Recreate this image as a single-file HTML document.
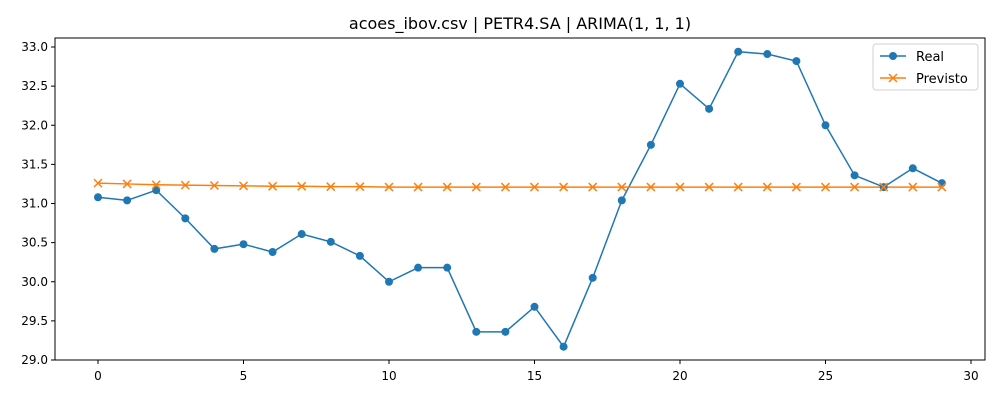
<!DOCTYPE html>
<html><head><meta charset="utf-8"><style>
body{margin:0;background:#fff;font-family:"Liberation Sans","DejaVu Sans",sans-serif;}
svg text{font-family:"DejaVu Sans","Liberation Sans",sans-serif;}
</style></head><body>
<svg id="chart" width="1000" height="400">
<rect width="1000" height="400" fill="#fff"/>
<text x="520" y="29" text-anchor="middle" font-size="16" fill="#000">acoes_ibov.csv | PETR4.SA | ARIMA(1, 1, 1)</text>
<g id="grid"></g>
<g id="series"></g>
<rect x="55" y="38" width="930" height="322" fill="none" stroke="#000" stroke-width="1"/>
<g>
<rect x="873" y="44" width="105" height="46" rx="3" fill="#fff" stroke="#ccc" opacity="0.9"/>
<g>
<line x1="880" y1="56" x2="906" y2="56" stroke="#1f77b4" stroke-width="1.5"/><circle cx="893" cy="56" r="4" fill="#1f77b4"/>
<text x="916" y="61" font-size="13">Real</text></g>
<g>
<line x1="880" y1="78" x2="906" y2="78" stroke="#ff7f0e" stroke-width="1.5"/><path d="M889,74L897,82M897,74L889,82" stroke="#ff7f0e" stroke-width="1.5"/>
<text x="916" y="83" font-size="13">Previsto</text></g>
</g>
</svg>
<script>
const real=[31.08,31.04,31.17,30.81,30.42,30.48,30.38,30.61,30.51,30.33,30.00,30.18,30.18,29.36,29.36,29.68,29.17,30.05,31.04,31.75,32.53,32.21,32.94,32.91,32.82,32.00,31.36,31.21,31.45,31.26];
const previsto=[31.26,31.25,31.24,31.235,31.23,31.225,31.22,31.22,31.215,31.215,31.21,31.21,31.21,31.21,31.21,31.21,31.21,31.21,31.21,31.21,31.21,31.21,31.21,31.21,31.21,31.21,31.21,31.21,31.21,31.21];
const xTicks=[0,5,10,15,20,25,30];
const yTicks=[29.0,29.5,30.0,30.5,31.0,31.5,32.0,32.5,33.0];
const NS="http://www.w3.org/2000/svg";
const X=v=>98+v*29.1, Y=v=>360-(v-29)*78.25;
function mk(t,a,p){const e=document.createElementNS(NS,t);for(const k in a)e.setAttribute(k,a[k]);p.appendChild(e);return e;}
const g=document.getElementById('grid'), s=document.getElementById('series');
xTicks.forEach(t=>{const gg=mk('g',{},g);


mk('line',{x1:X(t),x2:X(t),y1:360,y2:364,stroke:'#000'},gg);
const tx=mk('text',{x:X(t),y:380,'text-anchor':'middle','font-size':12},gg);tx.textContent=t;});
yTicks.forEach(t=>{const gg=mk('g',{},g);


mk('line',{x1:51,x2:55,y1:Y(t),y2:Y(t),stroke:'#000'},gg);
const tx=mk('text',{x:48,y:Y(t)+4,'text-anchor':'end','font-size':12},gg);tx.textContent=t.toFixed(1);});
function line(d,c,name){const p=mk('polyline',{points:d.map((v,i)=>X(i)+','+Y(v)).join(' '),fill:'none',stroke:c,'stroke-width':1.5},s);

}
line(real,'#1f77b4','real-line');line(previsto,'#ff7f0e','previsto-line');
real.forEach((v,i)=>{const c=mk('circle',{cx:X(i),cy:Y(v),r:4,fill:'#1f77b4'},s);

});
previsto.forEach((v,i)=>{const x=X(i),y=Y(v);const c=mk('path',{d:`M${x-4},${y-4}L${x+4},${y+4}M${x+4},${y-4}L${x-4},${y+4}`,stroke:'#ff7f0e','stroke-width':1.5},s);

});
</script>
</body></html>
